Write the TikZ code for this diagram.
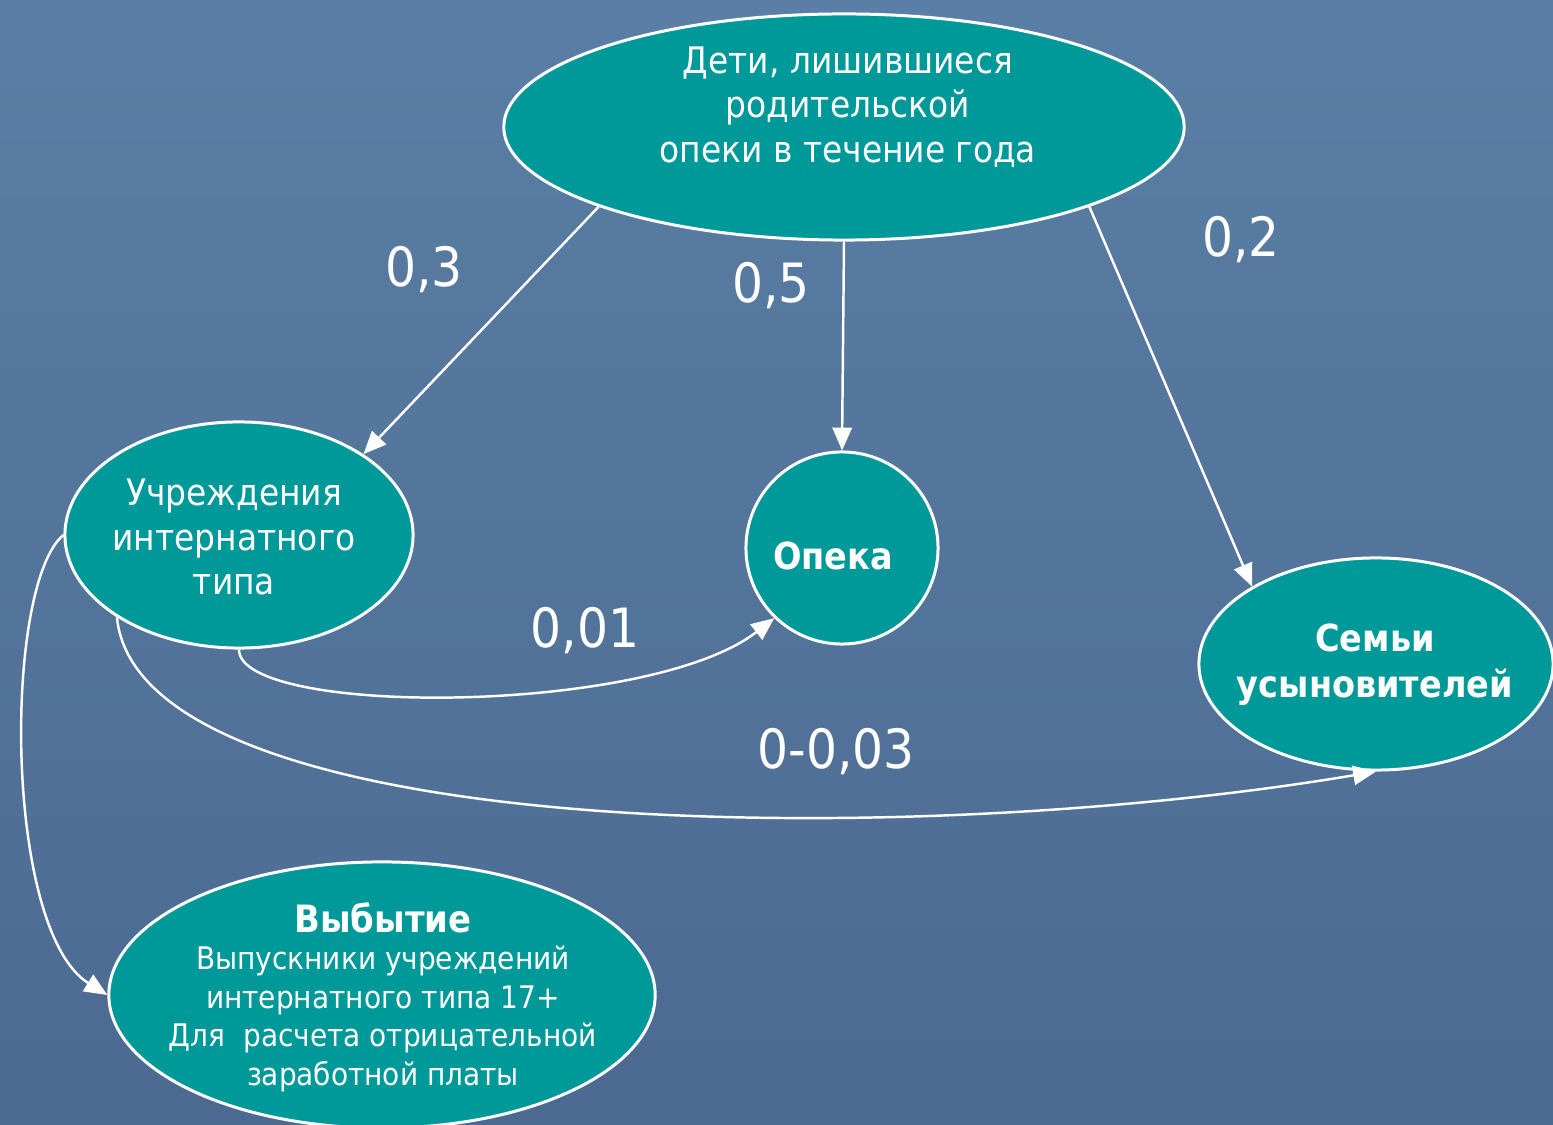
\documentclass[tikz,border=0pt]{standalone}
\usepackage{fontspec}
\setmainfont{DejaVu Sans Condensed}
\usetikzlibrary{shapes.geometric,arrows.meta}
\definecolor{tealfill}{RGB}{0,153,153}
\definecolor{bgtop}{RGB}{90,126,165}
\definecolor{bgbot}{RGB}{76,106,145}
\tikzset{
  blob/.style={ellipse, draw=white, line width=0.85pt, fill=tealfill, inner sep=0pt},
  txt/.style={text=white, align=center, inner sep=0pt, font=\fontsize{10.4}{12.6}\selectfont},
  btxt/.style={text=white, align=center, inner sep=0pt, font=\bfseries\fontsize{10.6}{13}\selectfont},
  smalltxt/.style={text=white, align=center, inner sep=0pt, font=\fontsize{8.85}{10.95}\selectfont},
  num/.style={text=white, inner sep=0pt, font=\fontsize{15.4}{18}\selectfont},
  arr/.style={draw=white, line width=0.7pt, -{Triangle[length=6.5pt,width=5.5pt]}}
}
\begin{document}
\begin{tikzpicture}[x=0.01cm,y=-0.01cm]
\useasboundingbox (0,0) rectangle (1553,1125);
\shade[top color=bgtop, bottom color=bgbot] (0,0) rectangle (1553,1125);
\clip (0,0) rectangle (1553,1125);

% nodes
\node[blob, minimum width=6.8cm, minimum height=2.26cm] (top) at (844,127) {};
\node[txt] (toptext) at (848,107) {Дети, лишившиеся\\родительской\\опеки в течение года};

\node[blob, minimum width=3.48cm, minimum height=2.26cm] (inst) at (239,535) {};
\node[txt] (insttext) at (234,537) {Учреждения\\интернатного\\типа};

\node[blob, circle, minimum size=1.92cm] (opeka) at (842,548) {};
\node[btxt] (opekatext) at (833,556) {Опека};

\node[blob, minimum width=3.54cm, minimum height=2.12cm] (fam) at (1376,664) {};
\node[btxt] (famtext) at (1375,665) {Семьи\\усыновителей};

\node[blob, minimum width=5.46cm, minimum height=2.66cm] (out) at (382,995) {};
\node[text=white, inner sep=0pt, font=\bfseries\fontsize{10.7}{12}\selectfont] (outtitle) at (383,918) {Выбытие};
\node[smalltxt] (outtext) at (383,1019) {Выпускники учреждений\\интернатного типа 17+\\Для\ \ расчета отрицательной\\заработной платы};

% connectors
\draw[arr] (top.198.4) -- (inst.33);
\draw[arr] (top.south) -- (opeka.north);
\draw[arr] (top.-18.5) -- (fam.148.5);
\draw[arr] (inst.south) .. controls +(0,67) and +(-126,98) .. (opeka.226);
\draw[arr] (inst.214) .. controls +(22,224) and +(-476,80) .. (fam.south);
\draw[arr] (inst.west) .. controls +(-60,50) and +(-104,-65) .. (out.west);

% labels
\node[num] (l1) at (424,270) {0,3};
\node[num] (l2) at (771,286) {0,5};
\node[num] (l3) at (1241,240) {0,2};
\node[num] (l4) at (585,631) {0,01};
\node[num] (l5) at (836,752) {0-0,03};
\end{tikzpicture}
\end{document}
